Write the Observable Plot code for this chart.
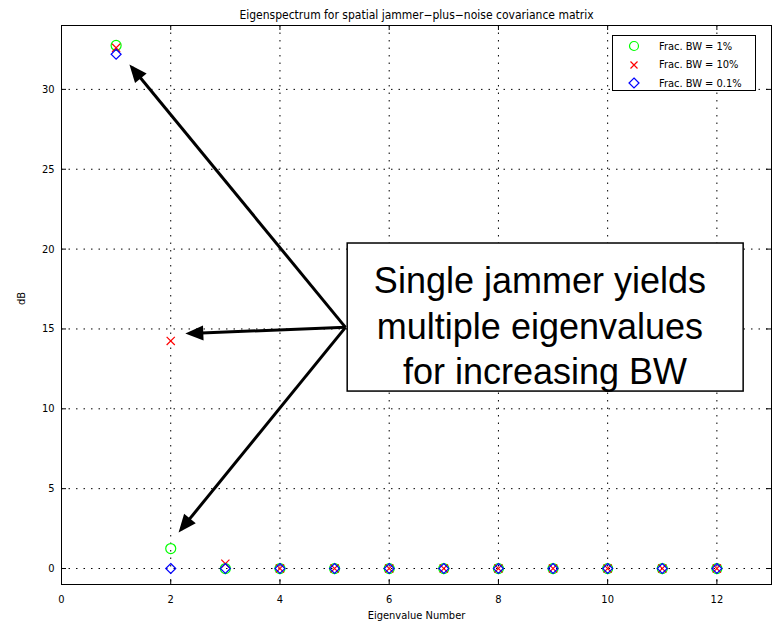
<!DOCTYPE html>
<html>
<head>
<meta charset="utf-8">
<script src="https://cdn.jsdelivr.net/npm/d3@7"></script>
<script src="https://cdn.jsdelivr.net/npm/@observablehq/plot@0.6"></script>
<style>
  html, body { margin: 0; padding: 0; background: white; }
  #wrap { position: relative; width: 778px; height: 626px; }
  #legend {
    position: absolute; left: 612px; top: 35px; width: 144px; height: 56px;
    border: 1px solid black; background: white; box-sizing: border-box;
    font-family: "DejaVu Sans Condensed", "DejaVu Sans", sans-serif; font-size: 11px;
  }
  .row { position: absolute; left: 0; height: 16px; display: flex; align-items: center; }
  .row svg { position: absolute; left: 15px; }
  .row span { position: absolute; left: 46px; white-space: nowrap; }
</style>
</head>
<body>
<div id="wrap"></div>
<script>
// ---- data ----
const eigIndex = [1, 2, 3, 4, 5, 6, 7, 8, 9, 10, 11, 12];
const bw1  = [32.75, 1.25, 0, 0, 0, 0, 0, 0, 0, 0, 0, 0];   // Frac. BW = 1%
const bw10 = [32.6, 14.25, 0.3, 0, 0, 0, 0, 0, 0, 0, 0, 0];  // Frac. BW = 10%
const bw01 = [32.2, 0, 0, 0, 0, 0, 0, 0, 0, 0, 0, 0];        // Frac. BW = 0.1%

const seriesNames = ["Frac. BW = 1%", "Frac. BW = 10%", "Frac. BW = 0.1%"];
const xTicks = [0, 2, 4, 6, 8, 10, 12];
const yTicks = [0, 5, 10, 15, 20, 25, 30];

const titleText = "Eigenspectrum for spatial jammer\u2212plus\u2212noise covariance matrix";
const xLabel = "Eigenvalue Number";
const yLabel = "dB";

// annotation (data coordinates)
const noteText = "Single jammer yields\nmultiple eigenvalues\n\u00a0for increasing BW";
const noteX = [8.76];
const noteY = [15.31];
const boxX = [5.24, 12.49];
const boxY = [11.08, 20.35];
const arrowFromX = [5.2, 5.2, 5.2];
const arrowFromY = [15.1, 15.1, 15.1];
const arrowToX = [1.29, 2.34, 2.19];
const arrowToY = [31.37, 14.72, 2.45];

// ---- build tables ----
const pts = (vals) => eigIndex.map((x, i) => ({x, y: vals[i]}));
const arrows = arrowFromX.map((_, i) => ({x1: arrowFromX[i], y1: arrowFromY[i], x2: arrowToX[i], y2: arrowToY[i]}));

const W = 778, H = 626, mL = 61, mR = 7, mT = 25, mB = 42;
const fw = W - mL - mR, fh = H - mT - mB;
const smallFont = "'DejaVu Sans Condensed', 'DejaVu Sans', sans-serif";

function filledArrow(color, context) {
  const ns = "http://www.w3.org/2000/svg";
  const m = context.document.createElementNS(ns, "marker");
  m.setAttribute("viewBox", "-15 -8 20 16");
  m.setAttribute("markerWidth", 20);
  m.setAttribute("markerHeight", 16);
  m.setAttribute("markerUnits", "userSpaceOnUse");
  m.setAttribute("orient", "auto");
  m.setAttribute("refX", 0);
  m.setAttribute("refY", 0);
  const p = context.document.createElementNS(ns, "path");
  p.setAttribute("d", "M-14,-7.5L4,0L-14,7.5Z");
  p.setAttribute("fill", color);
  p.setAttribute("stroke", "none");
  m.appendChild(p);
  return m;
}

const grid = {stroke: "black", strokeOpacity: 1, strokeWidth: 1, strokeDasharray: "1.5,6"};

const chart = Plot.plot({
  width: W, height: H,
  marginLeft: mL, marginRight: mR, marginTop: mT, marginBottom: mB,
  style: {fontFamily: smallFont, fontSize: "11px", background: "white", color: "black", overflow: "visible"},
  x: {domain: [0, 13], label: null, axis: null},
  y: {domain: [-1, 34], label: null, axis: null},
  marks: [
    Plot.gridX(xTicks.filter(d => d > 0), {...grid}),
    Plot.gridY(yTicks, {...grid}),
    // inside ticks on all four sides
    Plot.tickX(xTicks, {x: d => d, stroke: "black", insetTop: fh - 5}),
    Plot.tickX(xTicks, {x: d => d, stroke: "black", insetBottom: fh - 5}),
    Plot.tickY(yTicks, {y: d => d, stroke: "black", insetRight: fw - 5}),
    Plot.tickY(yTicks, {y: d => d, stroke: "black", insetLeft: fw - 5}),
    Plot.frame({stroke: "black", strokeWidth: 1}),
    // tick labels
    Plot.text(xTicks, {x: d => d, frameAnchor: "bottom", lineAnchor: "top", dy: 11, text: d => String(d), fontSize: 11}),
    Plot.text(yTicks, {y: d => d, frameAnchor: "left", textAnchor: "end", dx: -7, text: d => String(d), fontSize: 11}),
    // axis labels and title
    Plot.text([xLabel], {frameAnchor: "bottom", lineAnchor: "top", dy: 27, text: d => d, fontSize: 11}),
    Plot.text([yLabel], {frameAnchor: "left", dx: -40, rotate: -90, text: d => d, fontSize: 11}),
    Plot.text([titleText], {frameAnchor: "top", lineAnchor: "bottom", dy: -7, text: d => d, fontSize: 12}),
    // data
    Plot.dot(pts(bw1), {x: "x", y: "y", symbol: "circle", r: 5, stroke: "#00ff00", fill: "none", strokeWidth: 1.2}),
    Plot.dot(pts(bw10), {x: "x", y: "y", symbol: "times", r: 3.8, stroke: "#ff0000", strokeWidth: 1.2}),
    Plot.dot(pts(bw01), {x: "x", y: "y", symbol: "diamond2", r: 4.5, stroke: "#0000ff", fill: "none", strokeWidth: 1.2}),
    // annotation arrows
    Plot.link(arrows, {x1: "x1", y1: "y1", x2: "x2", y2: "y2", stroke: "black", strokeWidth: 3, markerEnd: filledArrow}),
    // annotation box and text
    Plot.rect([0], {x1: boxX[0], x2: boxX[1], y1: boxY[0], y2: boxY[1], fill: "white", stroke: "black", strokeWidth: 1.5}),
    Plot.text([noteText], {x: noteX, y: noteY, text: d => d, fontSize: 36, lineHeight: 1.26,
      fontFamily: "'Liberation Sans', Arial, sans-serif", fill: "black"})
  ]
});

const wrap = document.getElementById("wrap");
wrap.appendChild(chart);

// legend (HTML overlay)
const legend = document.createElement("div");
legend.id = "legend";
const legendSym = [
  '<circle cx="6" cy="6" r="4.5" fill="none" stroke="#00ff00" stroke-width="1.2"/>',
  '<path d="M2.5,2.5L9.5,9.5M9.5,2.5L2.5,9.5" stroke="#ff0000" stroke-width="1.2"/>',
  '<path d="M6,1L11,6L6,11L1,6Z" fill="none" stroke="#0000ff" stroke-width="1.2"/>'
];
const rowTop = [2, 20.5, 39];
seriesNames.forEach((name, i) => {
  const row = document.createElement("div");
  row.className = "row";
  row.style.top = rowTop[i] + "px";
  row.style.width = "142px";
  row.innerHTML = `<svg width="12" height="12" viewBox="0 0 12 12">${legendSym[i]}</svg><span>${name}</span>`;
  legend.appendChild(row);
});
wrap.appendChild(legend);
</script>
</body>
</html>
